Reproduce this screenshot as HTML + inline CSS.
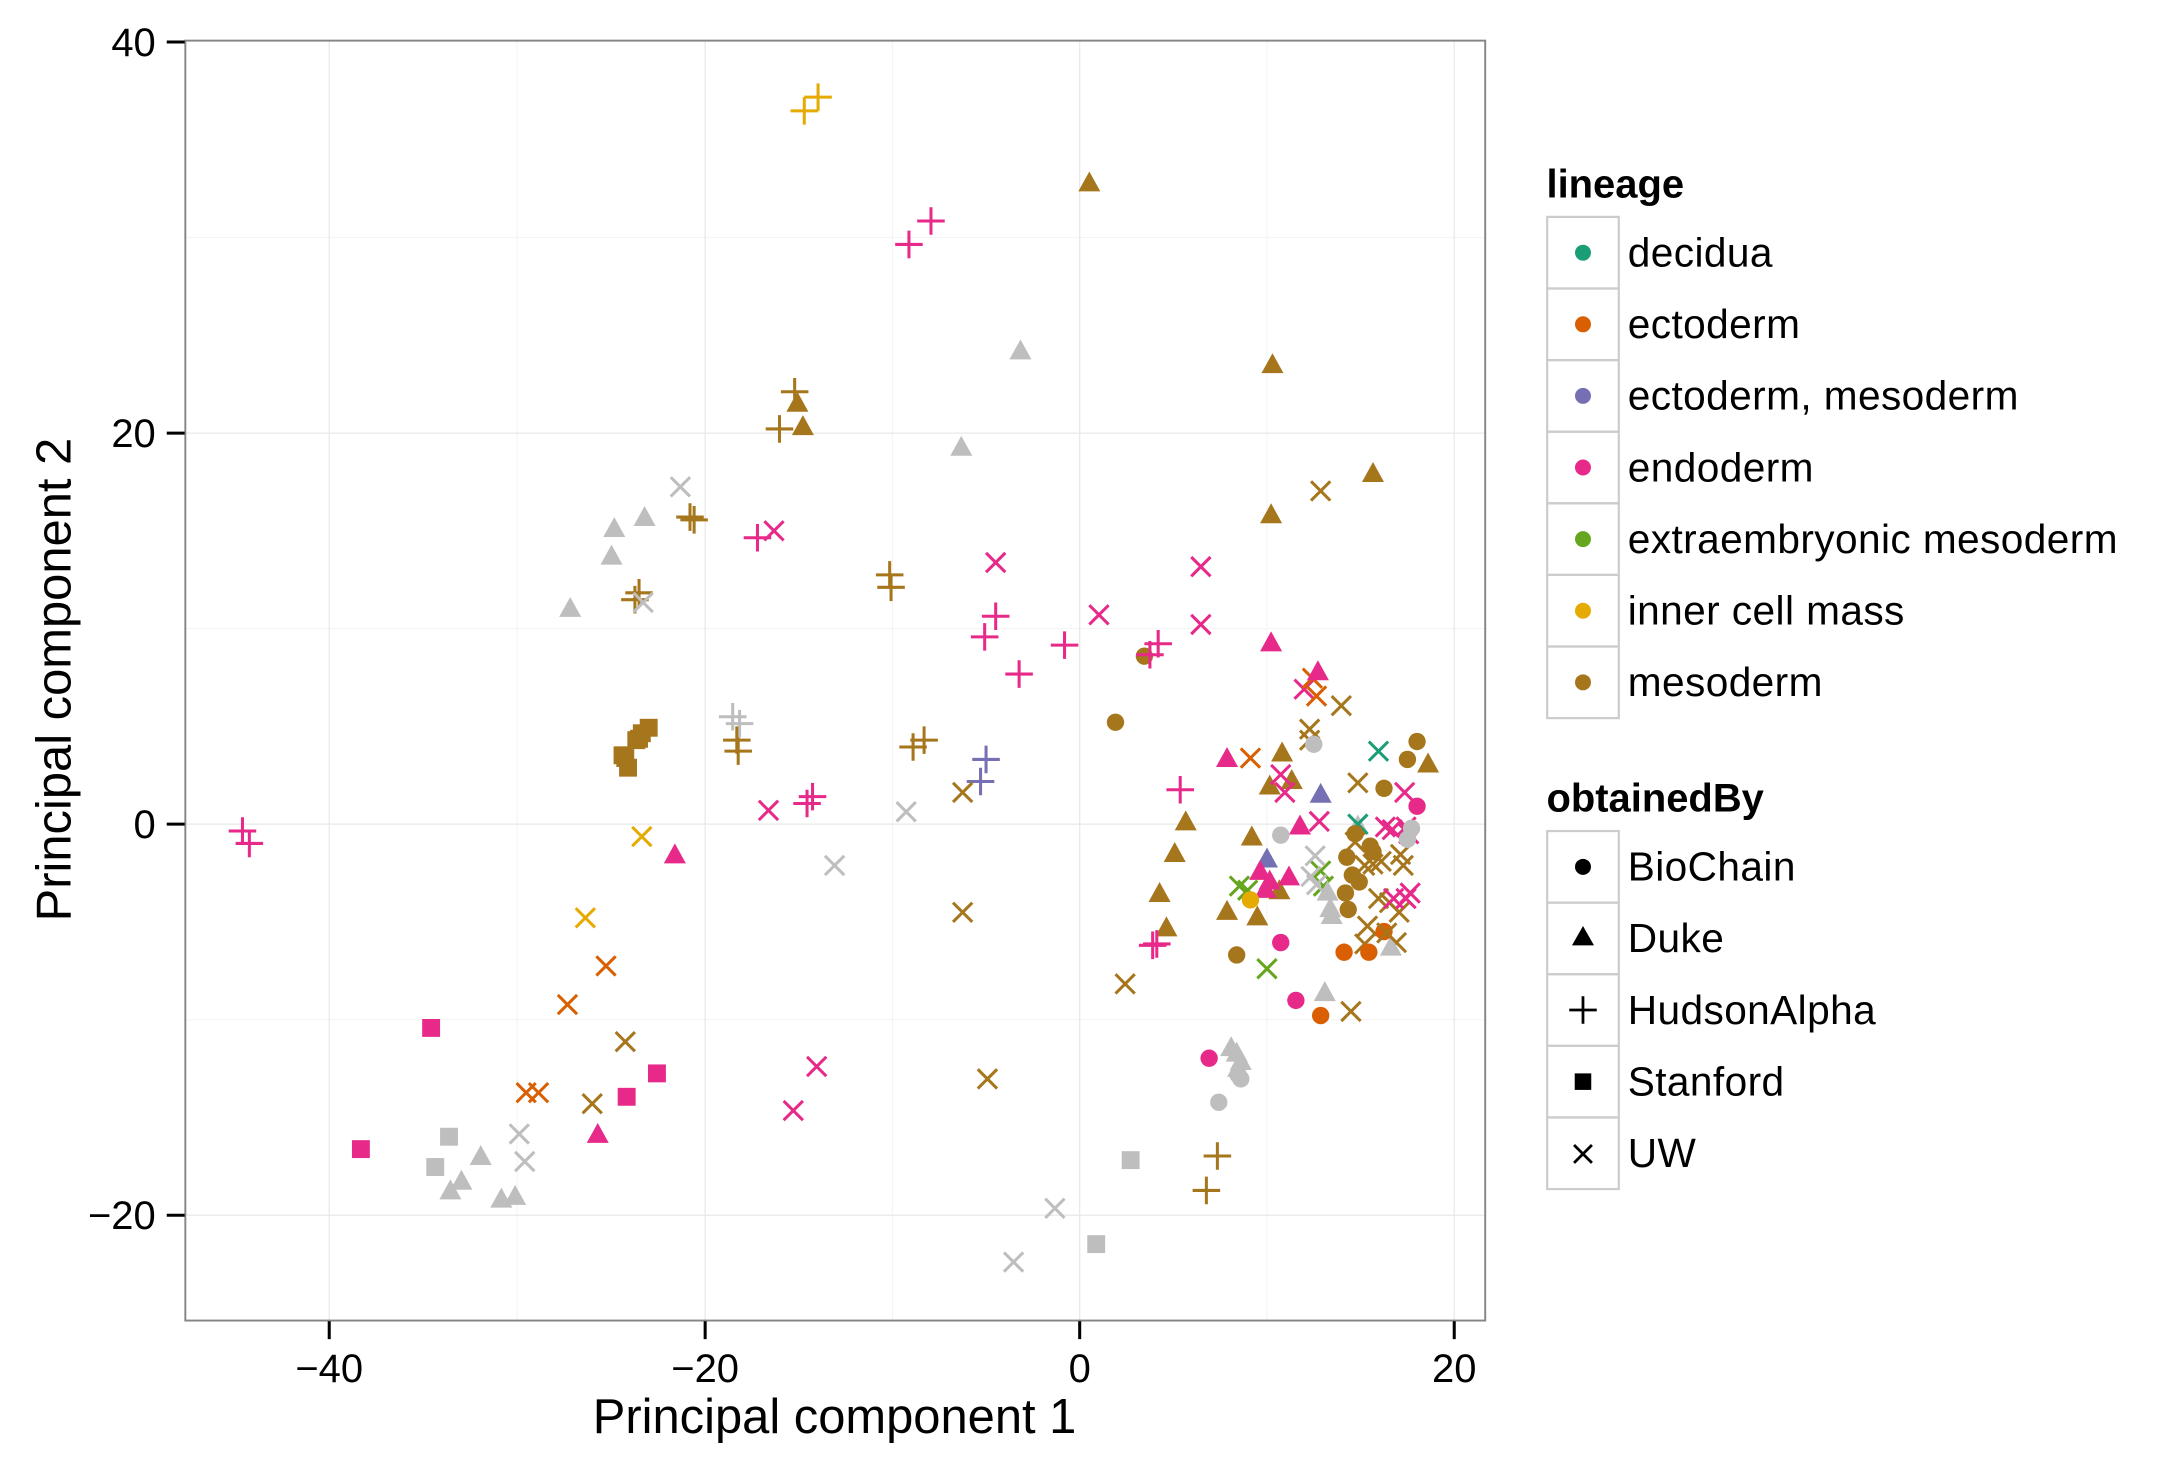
<!DOCTYPE html>
<html><head><meta charset="utf-8"><style>
html,body{margin:0;padding:0;background:#fff;width:2160px;height:1469px;overflow:hidden}
svg{display:block}
text{font-family:"Liberation Sans",Arial,sans-serif}
</style></head><body>
<svg width="2160" height="1469" viewBox="0 0 2160 1469" xmlns="http://www.w3.org/2000/svg">
<g transform="matrix(1.377,0,0,1.377,1.5,0.7)">
<g id="grid">
<g stroke="#f4f4f4" stroke-width="0.8">
<line x1="133" x2="1077" y1="172" y2="172"/><line x1="133" x2="1077" y1="456" y2="456"/><line x1="133" x2="1077" y1="740" y2="740"/>
<line y1="29" y2="958" x1="374.5" x2="374.5"/><line y1="29" y2="958" x1="647" x2="647"/><line y1="29" y2="958" x1="919" x2="919"/>
</g>
<g stroke="#e8e8e8" stroke-width="0.9">
<line x1="133" x2="1077" y1="314" y2="314"/><line x1="133" x2="1077" y1="598" y2="598"/><line x1="133" x2="1077" y1="882" y2="882"/>
<line y1="29" y2="958" x1="238" x2="238"/><line y1="29" y2="958" x1="511" x2="511"/><line y1="29" y2="958" x1="783" x2="783"/><line y1="29" y2="958" x1="1055" x2="1055"/>
</g>
</g>
<g id="pts"></g>
<rect x="133.5" y="29" width="944" height="929.5" fill="none" stroke="#858585" stroke-width="1.4"/>
<g stroke="#000" stroke-width="2.2">
<line x1="120" x2="133" y1="30" y2="30"/><line x1="120" x2="133" y1="314" y2="314"/><line x1="120" x2="133" y1="598" y2="598"/><line x1="120" x2="133" y1="882" y2="882"/>
<line y1="959" y2="972" x1="238" x2="238"/><line y1="959" y2="972" x1="511" x2="511"/><line y1="959" y2="972" x1="783" x2="783"/><line y1="959" y2="972" x1="1055" x2="1055"/>
</g>
<g font-size="29" fill="#000" text-anchor="end">
<text x="112" y="40">40</text><text x="112" y="324">20</text><text x="112" y="608">0</text><text x="112" y="892">−20</text>
</g>
<g font-size="29" fill="#000" text-anchor="middle">
<text x="238" y="1003">−40</text><text x="511" y="1003">−20</text><text x="783" y="1003">0</text><text x="1055" y="1003">20</text>
</g>
<text x="605" y="1040" font-size="35.5" text-anchor="middle">Principal component 1</text>
<text transform="translate(50,493) rotate(-90)" font-size="35.5" text-anchor="middle">Principal component 2</text>

<text x="1122" y="143" font-size="29" font-weight="bold">lineage</text>
<g fill="none" stroke="#cccccc" stroke-width="1.6">
<rect x="1122.5" y="157" width="52" height="52"/><rect x="1122.5" y="209" width="52" height="52"/><rect x="1122.5" y="261" width="52" height="52"/><rect x="1122.5" y="313" width="52" height="52"/><rect x="1122.5" y="365" width="52" height="52"/><rect x="1122.5" y="417" width="52" height="52"/><rect x="1122.5" y="469" width="52" height="52"/>
<rect x="1122.5" y="603" width="52" height="52"/><rect x="1122.5" y="655" width="52" height="52"/><rect x="1122.5" y="707" width="52" height="52"/><rect x="1122.5" y="759" width="52" height="52"/><rect x="1122.5" y="811" width="52" height="52"/>
</g>
<g>
<circle cx="1148.5" cy="183" r="5.8" fill="#1B9E77"/><circle cx="1148.5" cy="235" r="5.8" fill="#D95F02"/><circle cx="1148.5" cy="287" r="5.8" fill="#7570B3"/><circle cx="1148.5" cy="339" r="5.8" fill="#E7298A"/><circle cx="1148.5" cy="391" r="5.8" fill="#66A61E"/><circle cx="1148.5" cy="443" r="5.8" fill="#E6AB02"/><circle cx="1148.5" cy="495" r="5.8" fill="#A6761D"/>
</g>
<g font-size="29.5" fill="#000" letter-spacing="0.3">
<text x="1181" y="193">decidua</text><text x="1181" y="245">ectoderm</text><text x="1181" y="297">ectoderm, mesoderm</text><text x="1181" y="349">endoderm</text><text x="1181" y="401">extraembryonic mesoderm</text><text x="1181" y="453">inner cell mass</text><text x="1181" y="505">mesoderm</text>
</g>
<text x="1122" y="589" font-size="29" font-weight="bold">obtainedBy</text>
<g>
<circle cx="1148.5" cy="629" r="5.8" fill="#000"/>
<polygon points="1148.5,672 1156.5,686 1140.5,686" fill="#000"/>
<path d="M1138.5 733 H1158.5 M1148.5 723 V743" stroke="#000" stroke-width="2"/>
<rect x="1142.5" y="779" width="12" height="12" fill="#000"/>
<path d="M1142 831 L1155 844 M1155 831 L1142 844" stroke="#000" stroke-width="2"/>
</g>
<g font-size="29.5" fill="#000" letter-spacing="0.3">
<text x="1181" y="639">BioChain</text><text x="1181" y="691">Duke</text><text x="1181" y="743">HudsonAlpha</text><text x="1181" y="795">Stanford</text><text x="1181" y="847">UW</text>
</g>
</g>
</svg>
<script>
var C={M:"#A6761D",E:"#E7298A",G:"#BEBEBE",O:"#D95F02",P:"#7570B3",N:"#66A61E",Y:"#E6AB02",T:"#1B9E77"};
var d=[
"p Y 583 80","p Y 593 70","t M 790 133","p E 659 177","p E 675 160","t G 740 255",
"p M 576 284","p M 565 311","t M 578 293","t M 582 310","t M 923 265","t G 697 325",
"t M 996 344","x M 958 356","x G 493 353","t G 445 384","t G 467 376","t G 443 404","t G 413 442",
"p M 500 375","p M 503 377","p E 549 390","x E 561 385","t M 922 374","x E 722 408",
"p M 645 417","p M 646 426","x E 871 411","p M 460 435","p M 463 430","x G 466 437",
"x E 797 446","p E 722 447","p E 714 462","p E 772 468","p E 739 489","x E 871 453",
"c M 830 476","p E 834 475","p E 840 467","t E 922 467","x E 946 500","x O 952 492","x O 955 505","t E 956 488",
"x M 973 512","p G 531 520","p G 536 525",
"s M 451 548","s M 455 557","s M 461 537","s M 465 532","s M 470 528","s M 463 536","s M 453 550",
"p M 534 537","p M 535 545","c M 809 524","p M 662 542","p M 670 537","p P 715 551","p P 711 567",
"x M 950 529","x M 950 537","c G 953 540","x T 1000 545","c M 1028 538","c M 1021 551","t M 1036 555",
"t E 890 551","x O 907 550","t M 930 547","t M 921 571","t M 937 567","x E 929 562","x E 932 575",
"x M 985 568","p E 856 573","x M 698 575","x E 557 588","p E 585 583","p E 589 578","x G 657 589",
"x E 1019 575","c M 1004 572","c E 1028 585","t M 860 597","p E 175 603","p E 180 612","x Y 465 607",
"t P 958 577","t G 985 600","x T 985 598","c G 929 606","t E 943 600","x E 1005 600","x E 1010 602","x E 957 596",
"t M 908 608","t M 852 620","t M 841 649","t M 846 674","t M 890 662","t M 912 666","t M 928 647",
"t E 489 621","x G 605 628","t P 919 624","t E 914 633","t E 921 640","t E 935 637","t E 918 646",
"x N 899 643","x N 905 646","c Y 907 653","x N 958 632","x N 960 643",
"x G 954 621","x G 951 636","x G 955 642","t G 963 648","t G 966 665","t G 965 660",
"c M 977 622","c M 981 635","c M 986 640","c M 976 648","c M 978 660","c M 996 618","c M 983 605","c M 994 614",
"x M 983 611","x M 990 628","x M 996 627","x M 1002 625","x M 1018 628","x M 1000 652","x M 1008 655","x M 1015 662","x M 992 672","x M 990 685","x M 1013 684","x M 1016 620",
"x E 1020 600","x E 1022 605","x E 1020 652","x E 1011 652","x E 1023 648","c G 1024 601","c G 1021 609","t G 1009 688",
"c O 1004 676","c O 975 691","c O 993 691","c O 958 737","x M 1006 677","x M 980 734",
"c E 929 684","c E 940 726","c M 897 693","x N 919 703","t G 961 721","p E 839 685","p E 836 686","x M 816 714",
"x Y 424 666","x O 439 701","x O 411 729","x M 698 662","s E 312 746","x M 453 756","x O 381 793","x O 390 793",
"s E 476 779","s E 454 796","x E 592 774","x M 716 783","x M 429 801",
"t G 893 761","t G 897 765","t G 900 771","t G 898 776","c G 898 780","c G 900 783","c G 884 800","c E 877 768",
"x E 575 806","t E 433 824","s E 261 834","s G 325 825","s G 315 847","t G 348 840","t G 334 858","t G 326 865","t G 363 871","t G 373 869",
"x G 376 823","x G 380 843","s G 820 842","s G 795 903","p M 883 839","p M 875 864","x G 765 877","x G 735 916"];
var h="";
d.forEach(function(s){var a=s.split(" "),k=a[0],c=C[a[1]],x=+a[2],y=+a[3];
if(k=="c")h+='<circle cx="'+x+'" cy="'+y+'" r="6.3" fill="'+c+'"/>';
else if(k=="t")h+='<polygon points="'+x+','+(y-9)+' '+(x+8)+','+(y+5.5)+' '+(x-8)+','+(y+5.5)+'" fill="'+c+'"/>';
else if(k=="s")h+='<rect x="'+(x-6.5)+'" y="'+(y-6.5)+'" width="13" height="13" fill="'+c+'"/>';
else if(k=="p")h+='<path d="M'+(x-10)+' '+y+'H'+(x+10)+'M'+x+' '+(y-10)+'V'+(y+10)+'" stroke="'+c+'" stroke-width="2.2" fill="none"/>';
else h+='<path d="M'+(x-7)+' '+(y-7)+'L'+(x+7)+' '+(y+7)+'M'+(x+7)+' '+(y-7)+'L'+(x-7)+' '+(y+7)+'" stroke="'+c+'" stroke-width="2.2" fill="none"/>';});
document.getElementById("pts").innerHTML=h;
</script>
</body></html>
